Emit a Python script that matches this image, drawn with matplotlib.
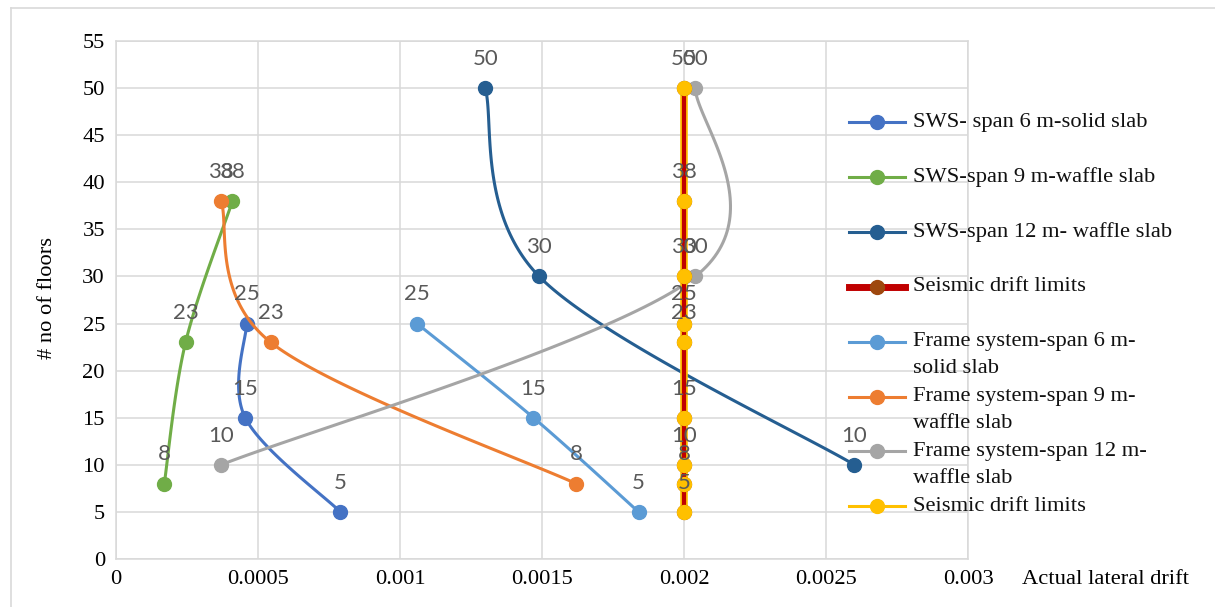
import numpy as np
import matplotlib.pyplot as plt
from matplotlib.lines import Line2D

# ---- data ----
sws6_x = [0.00079, 0.000455, 0.00046]
sws6_y = [5, 15, 25]

sws9_x = [0.00017, 0.000245, 0.00041]
sws9_y = [8, 23, 38]

sws12_x = [0.0013, 0.00149, 0.0026]
sws12_y = [50, 30, 10]

limit_red_x = [0.002] * 9
limit_red_y = [5, 8, 10, 15, 23, 25, 30, 38, 50]

frame6_x = [0.00106, 0.00147, 0.00184]
frame6_y = [25, 15, 5]

frame9_x = [0.00037, 0.000545, 0.00162]
frame9_y = [38, 23, 8]

frame12_x = [0.00037, 0.00204, 0.00204]
frame12_y = [10, 30, 50]

limit_x = [0.002] * 9
limit_y = [5, 8, 10, 15, 23, 25, 30, 38, 50]

x_ticks = [0, 0.0005, 0.001, 0.0015, 0.002, 0.0025, 0.003]
x_tick_labels = ["0", "0.0005", "0.001", "0.0015", "0.002", "0.0025", "0.003"]
y_ticks = list(range(0, 56, 5))

series = [
    ("SWS- span 6 m-solid slab", sws6_x, sws6_y, "#4472C4", "#4472C4"),
    ("SWS-span 9 m-waffle slab", sws9_x, sws9_y, "#70AD47", "#70AD47"),
    ("SWS-span 12 m- waffle slab", sws12_x, sws12_y, "#255E91", "#255E91"),
    ("Seismic drift limits", limit_red_x, limit_red_y, "#C00000", "#9E480E"),
    ("Frame system-span 6 m-\nsolid slab", frame6_x, frame6_y, "#5B9BD5", "#5B9BD5"),
    ("Frame system-span 9 m-\nwaffle slab", frame9_x, frame9_y, "#ED7D31", "#ED7D31"),
    ("Frame system-span 12 m-\nwaffle slab", frame12_x, frame12_y, "#A5A5A5", "#A5A5A5"),
    ("Seismic drift limits", limit_x, limit_y, "#FFC000", "#FFC000"),
]

serif = "Liberation Serif"
fs = 16.2
W, H, DPI = 12.15, 6.07, 100
fig = plt.figure(figsize=(W, H), dpi=DPI)
ax_l, ax_r, ax_t, ax_b = 116, 968, 41, 559
ax = fig.add_axes([ax_l / 1215, 1 - ax_b / 607, (ax_r - ax_l) / 1215, (ax_b - ax_t) / 607])
ax.set_xlim(0, 0.003)
ax.set_ylim(0, 55)

# pixels per data unit, used for Excel-style smoothing
px_x = (ax_r - ax_l) / 0.003
px_y = (ax_b - ax_t) / 55


def smooth(xs, ys, n=60):
    p = np.column_stack([np.array(xs) * px_x, np.array(ys) * px_y])
    pts = [p[0]]
    for i in range(len(p) - 1):
        p0 = p[max(i - 1, 0)]
        p1, p2 = p[i], p[i + 1]
        p3 = p[min(i + 2, len(p) - 1)]
        c1 = p1 + (p2 - p0) / 6
        c2 = p2 - (p3 - p1) / 6
        t = np.linspace(0, 1, n)[1:, None]
        seg = (1 - t) ** 3 * p1 + 3 * (1 - t) ** 2 * t * c1 + 3 * (1 - t) * t ** 2 * c2 + t ** 3 * p2
        pts.extend(seg)
    pts = np.array(pts)
    return pts[:, 0] / px_x, pts[:, 1] / px_y


for i, (name, xs, ys, lc, mc) in enumerate(series):
    sx, sy = smooth(xs, ys)
    if lc == "#C00000":
        ax.plot(sx, sy, color=lc, lw=3, zorder=4, solid_capstyle="butt")
        ax.plot(xs, ys, "o", color=mc, ms=10, zorder=4)
        continue
    if lc == "#FFC000":
        ax.plot(sx, sy, color=lc, lw=5.5, zorder=3, solid_capstyle="butt")
        ax.plot(xs, ys, "o", color=mc, ms=10, zorder=5)
    else:
        ax.plot(sx, sy, color=lc, lw=2.2, zorder=3)
        ax.plot(xs, ys, "o", color=mc, ms=10, zorder=3)
    for x, y in zip(xs, ys):
        ax.annotate(str(y), (x, y), xytext=(0, 21), textcoords="offset points",
                    ha="center", va="center", fontsize=16, color="#595959",
                    family="Lato", zorder=6)

ax.set_xticks(x_ticks)
ax.set_xticklabels(x_tick_labels)
ax.set_yticks(y_ticks)
ax.tick_params(length=0, labelsize=fs, pad=8)
for lab in ax.get_xticklabels() + ax.get_yticklabels():
    lab.set_family(serif)
ax.grid(True, color="#D9D9D9", lw=1.1)
ax.set_axisbelow(True)
for s in ax.spines.values():
    s.set_color("#D9D9D9")
    s.set_linewidth(1.1)

fig.text(47 / 1215, 1 - 298 / 607, "# no of floors", rotation=90, ha="center", va="center",
         family=serif, fontsize=fs)
fig.text(1022 / 1215, 1 - 580 / 607, "Actual lateral drift", ha="left", va="center",
         family=serif, fontsize=fs)

# legend drawn by hand so wrapped entries keep Excel's even spacing
leg_top, pitch = 122, 54.9
for i, (name, xs, ys, lc, mc) in enumerate(series):
    yy = 1 - (leg_top + i * pitch) / 607
    lw = 5 if lc == "#C00000" else 2.2
    fig.add_artist(Line2D([849 / 1215, 877 / 1215, 905 / 1215], [yy, yy, yy], color=lc, lw=lw,
                          marker="o", markevery=[1], ms=10, mfc=mc, mec=mc,
                          transform=fig.transFigure))
    for k, line in enumerate(name.split("\n")):
        fig.text(913 / 1215, yy - k * 27 / 607, line, ha="left", va="center",
                 family=serif, fontsize=fs, color="#111111")

# chart area border (top and left edges visible)
fig.add_artist(Line2D([11 / 1215, 1], [1 - 8 / 607, 1 - 8 / 607], color="#D9D9D9", lw=1.2,
                      transform=fig.transFigure))
fig.add_artist(Line2D([11 / 1215, 11 / 1215], [0, 1 - 8 / 607], color="#D9D9D9", lw=1.2,
                      transform=fig.transFigure))

fig.savefig("out.png", dpi=DPI)
